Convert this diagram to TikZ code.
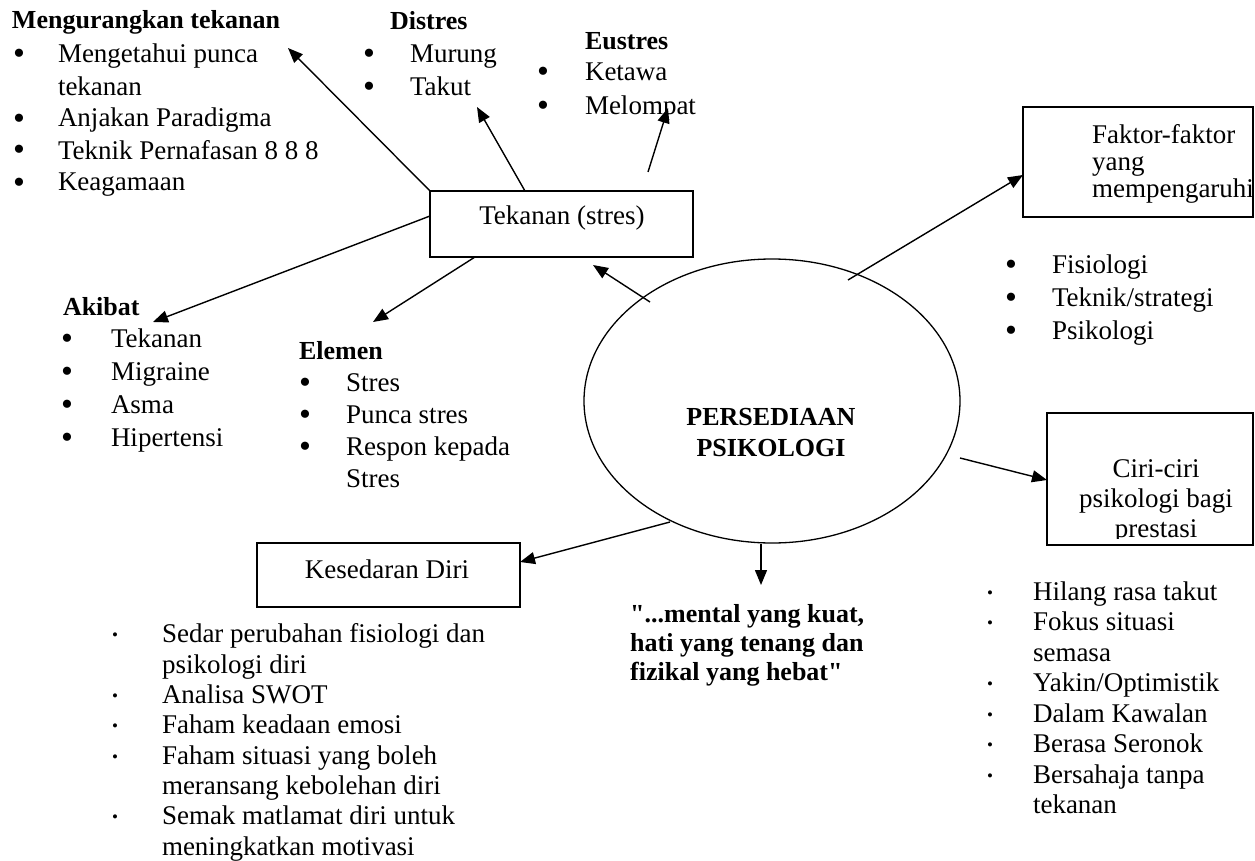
\documentclass[tikz,border=0pt]{standalone}
\usepackage{fontspec}
\setmainfont{Liberation Serif}
\newfontfamily\qf{Liberation Serif}
\usetikzlibrary{arrows.meta,shapes.geometric}
\newcommand\bigb[1]{\makebox[#1pt][l]{\smash{\raisebox{-2pt}{\fontsize{34}{34}\selectfont\textbullet}}}}
\newcommand\smlb[1]{\makebox[#1pt][l]{\raisebox{2pt}{\fontsize{17}{17}\selectfont\textbullet}}}
\newcommand\indt[1]{\hspace*{#1pt}}
\begin{document}
\begin{tikzpicture}[x=1pt,y=-1pt,
 txt/.style={anchor=base west,inner sep=0pt,outer sep=0pt,align=left,font=\fontsize{27}{#1}\selectfont},
 txt/.default=32,
 hd/.style={anchor=base west,inner sep=0pt,outer sep=0pt,font=\fontsize{26}{30}\selectfont\bfseries},
 boxshape/.style={draw,line width=1.4pt,rectangle,inner sep=0pt,outer sep=0pt},
 arr/.style={line width=1.4pt,-{Triangle[length=15pt,width=12pt]}}]
\fill[white] (0,0) rectangle (1255,861);
\useasboundingbox (0,0) rectangle (1255,861);

% boxes
\node[boxshape,minimum width=263pt,minimum height=66pt] (tek) at (561.5,224) {};
\node[boxshape,minimum width=230pt,minimum height=110pt] (fak) at (1138,162) {};
\node[boxshape,minimum width=206pt,minimum height=132pt] (ciri) at (1150,479) {};
\node[boxshape,minimum width=263pt,minimum height=64pt] (kes) at (388.5,575) {};
\node[draw,ellipse,line width=1.3pt,minimum width=376pt,minimum height=284pt,inner sep=0pt] (ell) at (772,401) {};

% box texts (multi-line nodes: base anchor = last line)
\node[anchor=base,inner sep=0pt,font=\fontsize{27}{32}\selectfont] (tekt) at (562,225) {Tekanan (stres)};
\node[anchor=base,inner sep=0pt,font=\fontsize{27}{32}\selectfont] (kest) at (387,578) {Kesedaran Diri};
\begin{scope}
\clip (1023,107) rectangle (1253,207);
\node[txt=27] (fakt) at (1092,197) {Faktor-faktor\\yang\\mempengaruhi};
\end{scope}
\begin{scope}
\clip (1047,413) rectangle (1253,538);
\node[anchor=base,inner sep=0pt,align=center,font=\fontsize{27}{30}\selectfont] (cirit) at (1156,537) {Ciri-ciri\\psikologi bagi\\prestasi};
\end{scope}
\node[anchor=base,inner sep=0pt,align=center,font=\fontsize{26}{31}\selectfont\bfseries] (ellt) at (771,456) {PERSEDIAAN\\PSIKOLOGI};

% headings and lists
\node[hd] (mh) at (12,29) {Mengurangkan tekanan};
\node[txt=32] (ml) at (13,191) {\bigb{45}Mengetahui punca\\ \indt{45}tekanan\\ \bigb{45}Anjakan Paradigma\\ \bigb{45}Teknik Pernafasan 8 8 8\\ \bigb{45}Keagamaan};
\node[hd] (dh) at (390,30) {Distres};
\node[txt=33] (dl) at (363,96) {\bigb{47}Murung\\ \bigb{47}Takut};
\node[hd] (eh) at (585,50) {Eustres};
\node[txt=34] (el) at (537,115) {\bigb{48}Ketawa\\ \bigb{48}Melompat};
\node[hd] (ah) at (63,315) {Akibat};
\node[txt=33] (al) at (61,446) {\bigb{50}Tekanan\\ \bigb{50}Migraine\\ \bigb{50}Asma\\ \bigb{50}Hipertensi};
\node[hd] (elh) at (299,359) {Elemen};
\node[txt=32] (ell2) at (299,487) {\bigb{47}Stres\\ \bigb{47}Punca stres\\ \bigb{47}Respon kepada\\ \indt{47}Stres};
\node[txt=33] (fl) at (1005,339) {\bigb{47}Fisiologi\\ \bigb{47}Teknik/strategi\\ \bigb{47}Psikologi};
\node[txt=30.3] (kl) at (112,855) {\smlb{50}Sedar perubahan fisiologi dan\\ \indt{50}psikologi diri\\ \smlb{50}Analisa SWOT\\ \smlb{50}Faham keadaan emosi\\ \smlb{50}Faham situasi yang boleh\\ \indt{50}meransang kebolehan diri\\ \smlb{50}Semak matlamat diri untuk\\ \indt{50}meningkatkan motivasi};
\node[txt=30.5] (cl) at (987,813.5) {\smlb{46}Hilang rasa takut\\ \smlb{46}Fokus situasi\\ \indt{46}semasa\\ \smlb{46}Yakin/Optimistik\\ \smlb{46}Dalam Kawalan\\ \smlb{46}Berasa Seronok\\ \smlb{46}Bersahaja tanpa\\ \indt{46}tekanan};
\node[anchor=base west,inner sep=0pt,align=left,font=\fontsize{26}{29}\selectfont\bfseries] (qt) at (630,680) {{\qf\bfseries"}...mental yang kuat,\\hati yang tenang dan\\fizikal yang hebat{\qf\bfseries"}};

% free ends
\coordinate (mtip) at (288,48);
\coordinate (dtip) at (477,107);
\coordinate (es) at (648,172);
\coordinate (etip) at (668,108);
\coordinate (atip) at (153,322);
\coordinate (eltip) at (373,322);
\coordinate (s6) at (650,302);
\coordinate (t6) at (593,265);
\coordinate (s7) at (848,280);
\coordinate (s8) at (960,458);
\coordinate (s9) at (670,522);
\coordinate (t10) at (761,585);

% connectors
\draw[arr] (tek.north west) -- (mtip);
\draw[arr] ([xshift=95pt]tek.north west) -- (dtip);
\draw[arr] (es) -- (etip);
\draw[arr] ([yshift=-25pt]tek.north west) -- (atip);
\draw[arr] ([xshift=45pt]tek.south west) -- (eltip);
\draw[arr] (s6) -- (t6);
\draw[arr] (s7) -- ([yshift=-68pt]fak.north west);
\draw[arr] (s8) -- ([yshift=-67pt]ciri.north west);
\draw[arr] (s9) -- ([yshift=13pt]kes.east);
\draw[arr] ([xshift=-11pt]ell.south) -- (t10);
\end{tikzpicture}
\end{document}
